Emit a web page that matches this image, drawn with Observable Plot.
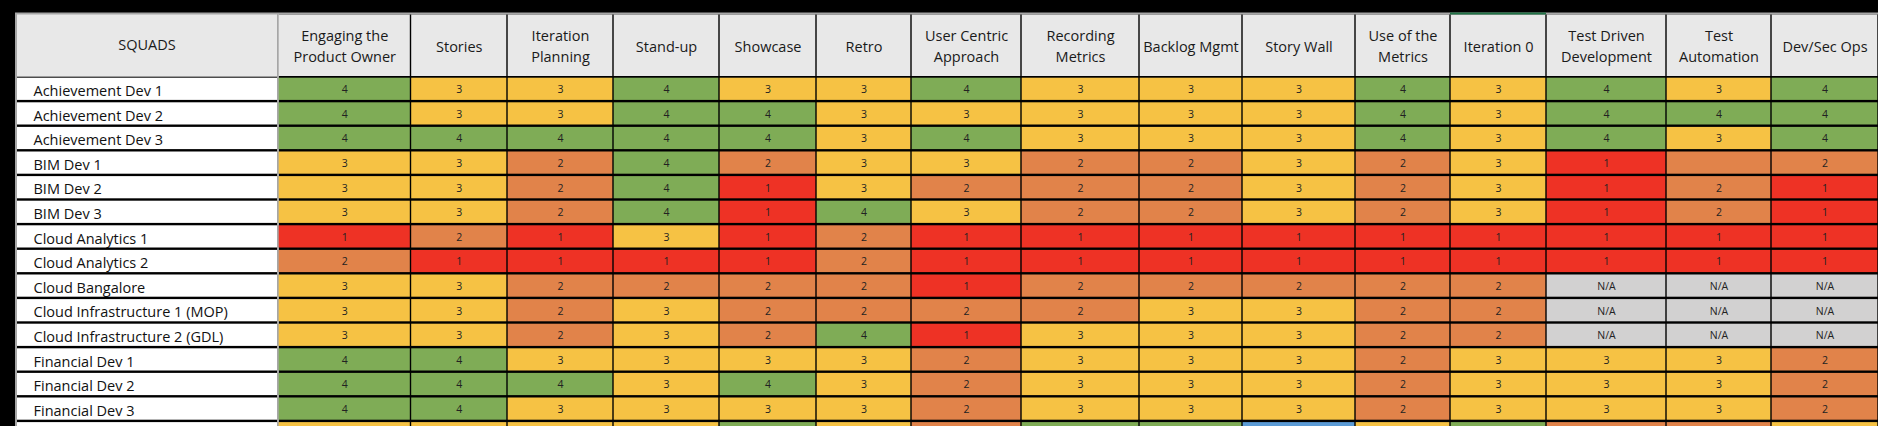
<!DOCTYPE html>
<html>
<head>
<meta charset="utf-8">
<script src="https://cdn.jsdelivr.net/npm/d3@7"></script>
<script src="https://cdn.jsdelivr.net/npm/@observablehq/plot@0.6"></script>
<style>
  html, body { margin: 0; padding: 0; background: #000; overflow: hidden; }
  #chart { width: 1878px; height: 426px; overflow: hidden; }
</style>
</head>
<body>
<div id="chart"></div>
<script>
// ---------- DATA ----------
const squads = [
  "Achievement Dev 1", "Achievement Dev 2", "Achievement Dev 3",
  "BIM Dev 1", "BIM Dev 2", "BIM Dev 3",
  "Cloud Analytics 1", "Cloud Analytics 2", "Cloud Bangalore",
  "Cloud Infrastructure 1 (MOP)", "Cloud Infrastructure 2 (GDL)",
  "Financial Dev 1", "Financial Dev 2", "Financial Dev 3"
];
const columns = [
  "Engaging the Product Owner", "Stories", "Iteration Planning", "Stand-up",
  "Showcase", "Retro", "User Centric Approach", "Recording Metrics",
  "Backlog Mgmt", "Story Wall", "Use of the Metrics", "Iteration 0",
  "Test Driven Development", "Test Automation", "Dev/Sec Ops"
];
const columnLabels = [
  "Engaging the\nProduct Owner", "Stories", "Iteration\nPlanning", "Stand-up",
  "Showcase", "Retro", "User Centric\nApproach", "Recording\nMetrics",
  "Backlog Mgmt", "Story Wall", "Use of the\nMetrics", "Iteration 0",
  "Test Driven\nDevelopment", "Test\nAutomation", "Dev/Sec Ops"
];
const squadHeader = "SQUADS";
// one list of scores per squad, in column order
const scores = [
  [4,3,3,4,3,3,4,3,3,3,4,3,4,3,4],
  [4,3,3,4,4,3,3,3,3,3,4,3,4,4,4],
  [4,4,4,4,4,3,4,3,3,3,4,3,4,3,4],
  [3,3,2,4,2,3,3,2,2,3,2,3,1,2,2],
  [3,3,2,4,1,3,2,2,2,3,2,3,1,2,1],
  [3,3,2,4,1,4,3,2,2,3,2,3,1,2,1],
  [1,2,1,3,1,2,1,1,1,1,1,1,1,1,1],
  [2,1,1,1,1,2,1,1,1,1,1,1,1,1,1],
  [3,3,2,2,2,2,1,2,2,2,2,2,"N/A","N/A","N/A"],
  [3,3,2,3,2,2,2,2,3,3,2,2,"N/A","N/A","N/A"],
  [3,3,2,3,2,4,1,3,3,3,2,2,"N/A","N/A","N/A"],
  [4,4,3,3,3,3,2,3,3,3,2,3,3,3,2],
  [4,4,4,3,4,3,2,3,3,3,2,3,3,3,2],
  [4,4,3,3,3,3,2,3,3,3,2,3,3,3,2]
];
// next row, only its top edge (colours) is visible at the bottom of the picture
const nextSquad = "";
const nextScores = [3,3,3,3,4,3,2,4,4,5,3,4,2,2,3];
// cells whose number is not shown
const hiddenText = [["BIM Dev 1", "Test Automation"]];
const scoreKeys = ["1", "2", "3", "4", "5", "N/A"];
const scoreColors = ["#ee3225", "#e1834a", "#f6c244", "#7fac56", "#5b9bd5", "#d2d1d1"];

// ---------- LAYOUT ----------
const squadW = 263;
const colWidths = [132.5, 96.5, 106, 106, 97, 95, 110, 118, 103, 113, 95, 96, 120, 105, 107];
const headerH = 64;
const rowH = 24.6;
const font = "'Open Sans', 'DejaVu Sans', sans-serif";

const edges = [squadW];
colWidths.forEach(w => edges.push(edges[edges.length - 1] + w));
const totalW = edges[edges.length - 1];
const allSquads = [...squads, nextSquad];
const allScores = [...scores, nextScores];
const totalH = headerH + allSquads.length * rowH;

const headerData = columns.map((c, j) => ({column: c, label: columnLabels[j], x1: edges[j], x2: edges[j + 1]}));
const rowData = allSquads.map((s, i) => ({squad: s, row: i, y1: headerH + i * rowH, y2: headerH + (i + 1) * rowH}));
const cells = rowData.flatMap((r, i) => columns.map((c, j) => ({
  squad: r.squad, row: i, column: c, value: allScores[i][j], key: String(allScores[i][j]),
  x1: edges[j], x2: edges[j + 1], y1: r.y1, y2: r.y2,
  hidden: i >= squads.length || hiddenText.some(([s, cc]) => s === r.squad && cc === c)
})));

const marginTop = 12.5;
const chart = Plot.plot({
  width: 1878,
  height: marginTop + totalH,
  marginTop, marginBottom: 0, marginLeft: 15, marginRight: 0,
  style: {fontFamily: font, background: "#000"},
  x: {type: "linear", domain: [0, totalW], axis: null},
  y: {type: "linear", domain: [0, totalH], reverse: true, axis: null},
  color: {type: "ordinal", domain: scoreKeys, range: scoreColors},
  marks: [
    // grey outer frame
    Plot.rect([0], {x1: 0, x2: totalW, y1: 0, y2: totalH, fill: "#a6a6a6"}),
    // black grid behind the score columns
    Plot.rect([0], {x1: squadW, x2: totalW, y1: 0, y2: totalH, insetLeft: 1, insetTop: 2, fill: "#000"}),
    // black grid behind the squad names
    Plot.rect([0], {x1: 0, x2: squadW, y1: headerH, y2: totalH, insetLeft: 2, insetRight: 1, fill: "#000"}),
    // header cells
    Plot.rect([0], {x1: 0, x2: squadW, y1: 0, y2: headerH, insetLeft: 2, insetRight: 1, insetTop: 2, fill: "#e8e8e8"}),
    Plot.rect(headerData, {x1: "x1", x2: "x2", y1: 0, y2: headerH, insetLeft: 0.7, insetRight: 0.7, insetTop: 2, insetBottom: 0.5, fill: "#e8e8e8"}),
    Plot.rect(headerData.filter(d => d.column === "Iteration 0"), {x1: "x1", x2: "x2", y1: 0, y2: 2, fill: "#217346"}),
    // squad name cells
    Plot.rect(rowData, {x1: 0, x2: squadW, y1: "y1", y2: "y2", insetLeft: 2, insetRight: 1, insetTop: 1.2, insetBottom: 1.2, fill: "#fff"}),
    // score cells
    Plot.rect(cells, {x1: "x1", x2: "x2", y1: "y1", y2: "y2", fill: "key", insetLeft: 0.7, insetRight: 0.7, insetTop: 1.2, insetBottom: 1.2}),
    // header texts
    Plot.text([squadHeader], {x: squadW / 2, y: headerH / 2, text: d => d, fontSize: 14.5, fill: "#1a1a1a"}),
    Plot.text(headerData, {x: d => (d.x1 + d.x2) / 2, y: headerH / 2, text: "label", fontSize: 14.5, lineHeight: 1.42, fill: "#1a1a1a"}),
    // squad names
    Plot.text(rowData.filter(d => d.squad !== ""), {x: 0, y: d => (d.y1 + d.y2) / 2, text: "squad", textAnchor: "start", dx: 18, dy: 2, fontSize: 14.5, fill: "#111"}),
    // score numbers
    Plot.text(cells.filter(d => !d.hidden), {x: d => (d.x1 + d.x2) / 2, y: d => (d.y1 + d.y2) / 2, text: "key", fontSize: 10.5, dy: 0.5, fill: "#222"})
  ]
});
document.getElementById("chart").appendChild(chart);
</script>
</body>
</html>
